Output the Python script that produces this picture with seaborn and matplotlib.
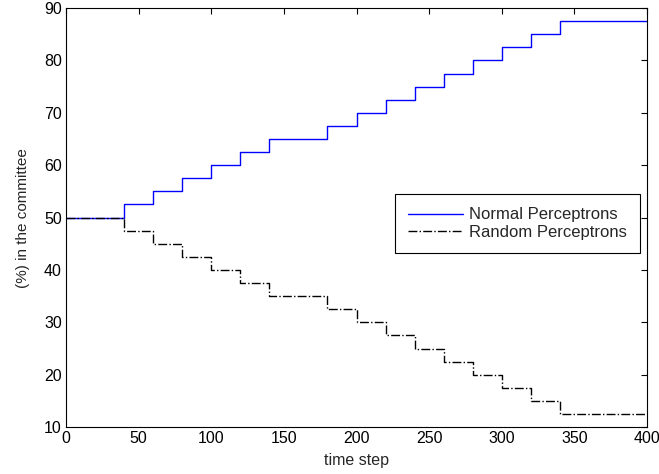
import numpy as np
import pandas as pd
import matplotlib
matplotlib.use("Agg")
import matplotlib.pyplot as plt
import seaborn as sns

# step change times and committee share after each step
time_steps = [0, 40, 60, 80, 100, 120, 140, 180, 200, 220, 240, 260, 280, 300, 320, 340, 400]
normal_pct = [50, 52.5, 55, 57.5, 60, 62.5, 65, 67.5, 70, 72.5, 75, 77.5, 80, 82.5, 85, 87.5, 87.5]
random_pct = [50, 47.5, 45, 42.5, 40, 37.5, 35, 32.5, 30, 27.5, 25, 22.5, 20, 17.5, 15, 12.5, 12.5]

x_ticks = [0, 50, 100, 150, 200, 250, 300, 350, 400]
y_ticks = [10, 20, 30, 40, 50, 60, 70, 80, 90]

sns.set_style("white")
plt.rcParams['font.family'] = ['Liberation Sans', 'DejaVu Sans']

df = pd.DataFrame({"t": time_steps, "normal": normal_pct, "random": random_pct})

fig = plt.figure(figsize=(6.59, 4.74), dpi=100)
ax = fig.add_axes([0.100, 0.099, 0.882, 0.884])

sns.lineplot(data=df, x="t", y="normal", ax=ax, color="#0000ff", linewidth=1.0,
             drawstyle="steps-post", label="Normal Perceptrons")
sns.lineplot(data=df, x="t", y="random", ax=ax, color="black", linewidth=1.0,
             linestyle="-.", drawstyle="steps-post", label="Random Perceptrons")

ax.set_xlim(0, 400)
ax.set_ylim(10, 90)
ax.set_xticks(x_ticks)
ax.set_yticks(y_ticks)
ax.tick_params(direction="in", top=True, right=True, length=4, width=0.8,
               labelsize=11.5, pad=3, colors="black")
for s in ax.spines.values():
    s.set_color("black")
    s.set_linewidth(0.8)

ax.set_xlabel("time step", fontsize=11.5, labelpad=5)
ax.set_ylabel("(%) in the committee", fontsize=11, labelpad=10)

leg = ax.legend(loc="upper right", bbox_to_anchor=(0.988, 0.556), fontsize=12,
                frameon=True, fancybox=False, edgecolor="black", framealpha=1,
                handlelength=3.3, handletextpad=0.35, borderpad=0.8, labelspacing=0.15,
                borderaxespad=0)
leg.get_frame().set_linewidth(0.8)

fig.savefig("out.png", dpi=100)
